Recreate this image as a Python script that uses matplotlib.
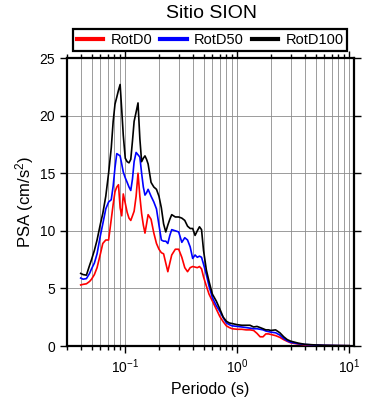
import matplotlib
matplotlib.use("Agg")
import matplotlib.pyplot as plt
from matplotlib.ticker import LogLocator, FixedLocator, NullFormatter

plt.rcParams['font.family'] = ['Liberation Sans', 'DejaVu Sans']
plt.rcParams['mathtext.fontset'] = 'custom'
plt.rcParams['mathtext.rm'] = 'Liberation Sans'
plt.rcParams['mathtext.it'] = 'Liberation Sans'

title = "Sitio SION"
xlabel = "Periodo (s)"
ylabel = "PSA (cm/s$^2$)"
series_names = ["RotD0", "RotD50", "RotD100"]
series_colors = ["#ff0000", "#0000ff", "#000000"]

periods = [0.04, 0.042, 0.045, 0.048, 0.05, 0.053, 0.056, 0.06, 0.063, 0.067,
           0.071, 0.075, 0.078, 0.081, 0.084, 0.087, 0.09, 0.093, 0.096, 0.1,
           0.104, 0.108, 0.112, 0.116, 0.12, 0.125, 0.13, 0.135, 0.14, 0.145,
           0.15, 0.155, 0.16, 0.17, 0.18, 0.19, 0.2, 0.21, 0.22, 0.23,
           0.24, 0.25, 0.26, 0.28, 0.3, 0.32, 0.34, 0.36, 0.38, 0.4,
           0.42, 0.44, 0.46, 0.48, 0.5, 0.53, 0.56, 0.6, 0.65, 0.7,
           0.75, 0.8, 0.85, 0.9, 1.0, 1.1, 1.2, 1.3, 1.4, 1.5,
           1.6, 1.7, 1.8, 1.9, 2.0, 2.2, 2.4, 2.6, 2.8, 3.0,
           3.5, 4.0, 5.0, 6.0, 7.0, 8.0, 10.0]

rotd0 = [5.3, 5.35, 5.4, 5.6, 5.8, 6.2, 6.8, 8.0, 8.9, 9.2,
         9.2, 11.0, 12.3, 13.4, 13.8, 14.0, 12.0, 11.3, 13.2, 12.4,
         11.6, 11.1, 10.9, 11.3, 11.7, 13.0, 15.0, 13.0, 11.5, 10.5,
         9.8, 10.6, 11.4, 11.0, 9.8, 8.9, 8.4, 8.1, 8.0, 7.2,
         6.45, 7.2, 7.9, 8.4, 8.4, 7.7, 6.8, 6.45, 6.8, 6.9,
         6.85, 6.8, 6.9, 6.7, 6.0, 5.2, 4.5, 3.9, 3.2, 2.55,
         2.1, 1.75, 1.6, 1.5, 1.45, 1.45, 1.4, 1.4, 1.35, 1.1,
         0.8, 0.8, 1.05, 1.05, 1.0, 0.9, 0.75, 0.55, 0.4, 0.28,
         0.17, 0.1, 0.06, 0.04, 0.03, 0.025, 0.02]

rotd50 = [5.9, 5.8, 5.85, 6.3, 6.7, 7.2, 8.0, 9.6, 10.6, 11.9,
          12.5, 12.7, 13.9, 15.5, 16.7, 16.6, 16.5, 15.8, 15.1, 14.6,
          14.2, 13.8, 13.5, 14.5, 16.0, 16.8, 16.6, 16.4, 15.0, 13.8,
          13.1, 13.3, 13.6, 13.0, 12.5, 11.9, 10.5, 9.2, 9.1, 9.1,
          8.9, 9.6, 10.1, 10.0, 9.9, 9.0, 9.4, 9.2, 8.6, 7.6,
          7.9, 7.7, 7.8, 7.7, 7.1, 6.2, 5.2, 4.2, 3.5, 3.0,
          2.45, 2.0, 1.85, 1.75, 1.7, 1.65, 1.6, 1.55, 1.5, 1.5,
          1.45, 1.4, 1.3, 1.25, 1.2, 1.15, 0.95, 0.65, 0.45, 0.32,
          0.2, 0.13, 0.08, 0.05, 0.04, 0.03, 0.02]

rotd100 = [6.3, 6.2, 6.15, 7.0, 7.5, 8.3, 9.2, 10.6, 11.5, 13.0,
           15.0, 17.2, 19.5, 21.0, 21.6, 22.2, 22.7, 20.5, 18.3, 16.3,
           16.0, 15.9, 16.2, 17.8, 19.5, 20.3, 21.1, 18.0, 16.0, 16.3,
           16.5, 16.2, 15.8, 14.2, 13.8, 13.6, 13.0, 12.0, 10.6, 9.9,
           10.5, 11.0, 11.4, 11.2, 11.2, 11.1, 10.9, 10.4, 10.2, 10.2,
           9.6, 10.0, 10.35, 10.1, 8.3, 6.6, 5.6, 4.5, 3.9, 3.2,
           2.5, 2.15, 2.0, 1.95, 1.85, 1.8, 1.8, 1.8, 1.65, 1.7,
           1.6, 1.5, 1.4, 1.4, 1.35, 1.4, 1.15, 0.8, 0.55, 0.42,
           0.25, 0.15, 0.09, 0.06, 0.05, 0.04, 0.03]

yticks = [0, 5, 10, 15, 20, 25]

fig = plt.figure(figsize=(3.9, 4.0), dpi=100)
ax = fig.add_axes([66.7/390, 1 - 346/400, (354.3-66.7)/390, (346-58)/400])

for vals, name, col in zip([rotd0, rotd50, rotd100], series_names, series_colors):
    ax.plot(periods, vals, color=col, lw=1.2, label=name, zorder=3)

ax.set_xscale('log')
ax.set_xlim(0.03, 11.1)
ax.set_ylim(0, 25)
ax.set_yticks(yticks)
ax.xaxis.set_major_locator(LogLocator(base=10, numticks=10))
ax.xaxis.set_minor_locator(LogLocator(base=10, subs=range(2, 10), numticks=30))
ax.xaxis.set_minor_formatter(NullFormatter())

ax.grid(True, which='both', axis='x', color='#8c8c8c', lw=0.6)
ax.grid(True, which='major', axis='y', color='#8c8c8c', lw=0.6)
ax.set_axisbelow(True)

for s in ax.spines.values():
    s.set_linewidth(1.6)
ax.tick_params(which='both', direction='out', top=True, right=True, labelsize=10, width=1)
ax.tick_params(which='major', length=5)
ax.tick_params(which='minor', length=3)

ax.set_xlabel(xlabel, fontsize=11.5, labelpad=4)
ax.set_ylabel(ylabel, fontsize=12, labelpad=2)
fig.text(211/390, 1 - 14/400, title, ha='center', va='center', fontsize=14)

leg = fig.legend(loc='lower left', bbox_to_anchor=(73.3/390, 1 - 50.7/400, (347.3-73.3)/390, 21.7/400),
                 mode='expand', ncol=3, borderaxespad=0, fontsize=10.5, handlelength=1.8,
                 fancybox=False, edgecolor='black', framealpha=1, borderpad=0.25,
                 columnspacing=1.0, handletextpad=0.5)
leg.get_frame().set_linewidth(1.6)
for h in leg.get_lines():
    h.set_linewidth(3)

fig.savefig('out.png', dpi=100)
